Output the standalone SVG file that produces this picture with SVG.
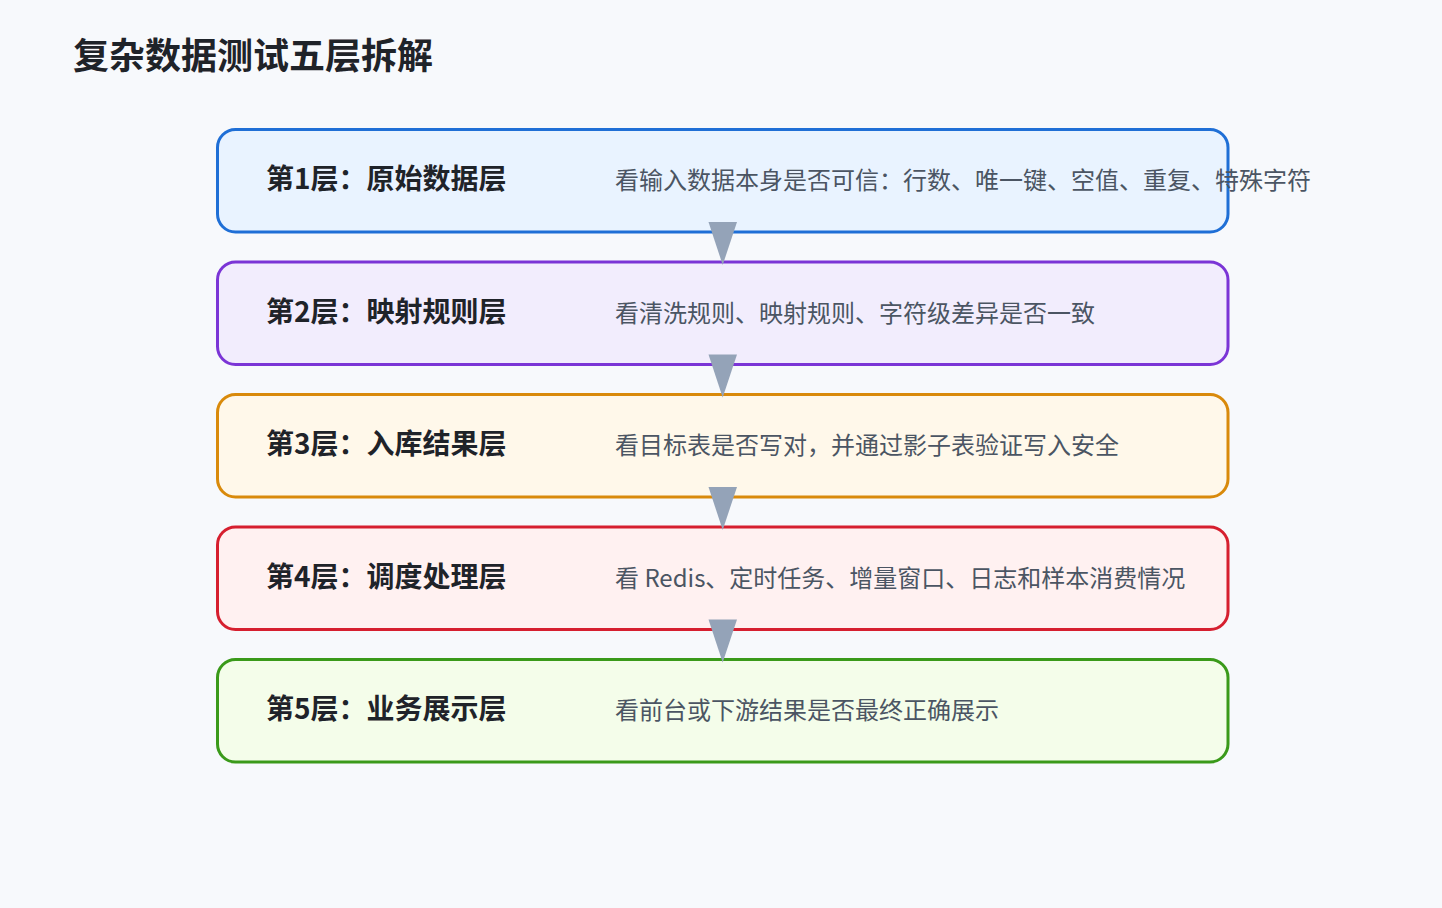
<svg xmlns="http://www.w3.org/2000/svg" width="1442" height="908" viewBox="0 0 1442 908">
  <style>
    .title { font-family: "Noto Sans CJK SC", "Noto Sans", sans-serif; font-size: 36px; font-weight: 700; fill: #1f2329; }
    .box { stroke-width: 3; }
    .label { font-family: "Noto Sans CJK SC", "Noto Sans", sans-serif; font-size: 28px; font-weight: 700; fill: #1f2329; }
    .desc { font-family: "Noto Sans CJK SC", "Noto Sans", sans-serif; font-size: 24px; font-weight: 400; fill: #4b5563; }
    .arrow { fill: #94a3b8; }
  </style>
  <rect x="0" y="0" width="1442" height="908" fill="#f7f9fc"/>
  <text class="title" x="73" y="69">复杂数据测试五层拆解</text>

  <g id="layer1">
    <rect class="box" x="217.5" y="129.5" width="1010.5" height="102.5" rx="18" fill="#e9f3ff" stroke="#1f6fd6"/>
    <text class="label" x="266" y="189">第1层：原始数据层</text>
    <text class="desc" x="615" y="189">看输入数据本身是否可信：行数、唯一键、空值、重复、特殊字符</text>
  </g>
  <g id="layer2">
    <rect class="box" x="217.5" y="262" width="1010.5" height="102.5" rx="18" fill="#f2edfd" stroke="#7b35d6"/>
    <text class="label" x="266" y="321.5">第2层：映射规则层</text>
    <text class="desc" x="615" y="321.5">看清洗规则、映射规则、字符级差异是否一致</text>
  </g>
  <g id="layer3">
    <rect class="box" x="217.5" y="394.5" width="1010.5" height="102.5" rx="18" fill="#fff8ea" stroke="#d98a0b"/>
    <text class="label" x="266" y="454">第3层：入库结果层</text>
    <text class="desc" x="615" y="454">看目标表是否写对，并通过影子表验证写入安全</text>
  </g>
  <g id="layer4">
    <rect class="box" x="217.5" y="527" width="1010.5" height="102.5" rx="18" fill="#fff1f1" stroke="#d61f2f"/>
    <text class="label" x="266" y="586.5">第4层：调度处理层</text>
    <text class="desc" x="615" y="586.5">看 Redis、定时任务、增量窗口、日志和样本消费情况</text>
  </g>
  <g id="layer5">
    <rect class="box" x="217.5" y="659.5" width="1010.5" height="102.5" rx="18" fill="#f4fdea" stroke="#3a9a1a"/>
    <text class="label" x="266" y="719">第5层：业务展示层</text>
    <text class="desc" x="615" y="719">看前台或下游结果是否最终正确展示</text>
  </g>

  <g id="connectors">
    <polygon class="arrow" points="708.5,222 737,222 722.7,265"/>
    <polygon class="arrow" points="708.5,354.5 737,354.5 722.7,397.5"/>
    <polygon class="arrow" points="708.5,487 737,487 722.7,530"/>
    <polygon class="arrow" points="708.5,619.5 737,619.5 722.7,662.5"/>
  </g>
</svg>
